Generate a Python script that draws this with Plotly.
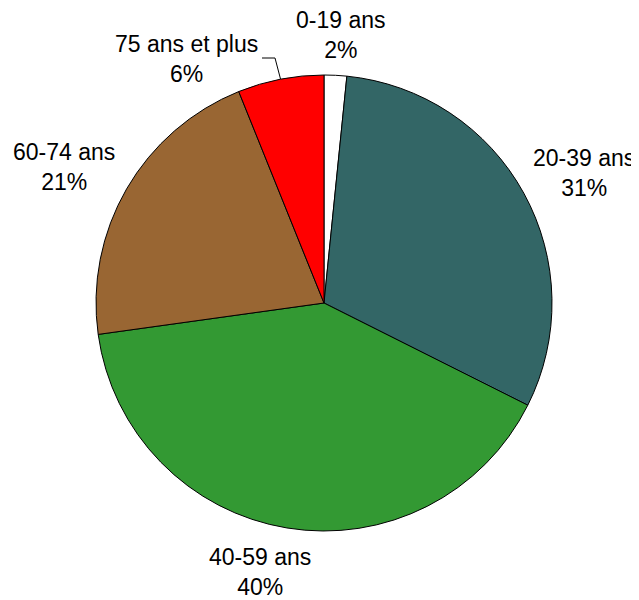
import math
import plotly.graph_objects as go

categories = ["0-19 ans", "20-39 ans", "40-59 ans", "60-74 ans", "75 ans et plus"]
values = [1.6, 30.8, 40.4, 21.1, 6.1]
colors = ["#FFFFFF", "#336666", "#339933", "#996633", "#FF0000"]

total = sum(values)
percent_text = [f"{round(v / total * 100)}%" for v in values]

fig = go.Figure(go.Pie(
    labels=categories,
    values=values,
    sort=False,
    direction="clockwise",
    rotation=0,
    marker=dict(colors=colors, line=dict(color="#000000", width=1)),
    textinfo="none",
    showlegend=False,
    hoverinfo="skip",
))

# Layout: pie square plot area (reference pixel frame)
X0, Y1, SIZE = 96, 531, 456


def px2paper(x, y):
    return (x - X0) / SIZE, (Y1 - y) / SIZE


# label placement (layout positions, reference pixels)
label_pos = [(341, 35), (584, 173), (260, 572), (64, 167), (186, 59)]
font = dict(family="Liberation Sans, Arial, sans-serif", size=23, color="#000000")
for cat, pct, (lx, ly) in zip(categories, percent_text, label_pos):
    xp, yp = px2paper(lx, ly)
    fig.add_annotation(
        x=xp, y=yp, xref="paper", yref="paper",
        text=f"{cat}<br>{pct}", showarrow=False,
        xanchor="center", yanchor="middle", align="center",
        borderpad=0, font=font,
    )

# leader line for the displaced "75 ans et plus" label, ending at slice mid-angle
cum = sum(values[:4]) + values[4] / 2
theta = 2 * math.pi * cum / total
ex, ey = 0.5 + 0.5 * math.sin(theta), 0.5 + 0.5 * math.cos(theta)
sx, sy = px2paper(262, 58)
kx, ky = px2paper(275, 58)
fig.add_shape(
    type="path", xref="paper", yref="paper",
    path=f"M {sx} {sy} L {kx} {ky} L {ex} {ey}",
    line=dict(color="#000000", width=1),
)

fig.update_layout(
    width=639, height=600,
    margin=dict(l=X0 - 8, r=639 - (X0 - 8) - SIZE, t=(Y1 - SIZE) - 8, b=600 - ((Y1 - SIZE) - 8) - SIZE),
    paper_bgcolor="#FFFFFF",
    plot_bgcolor="#FFFFFF",
)

fig.write_html("out.html")
